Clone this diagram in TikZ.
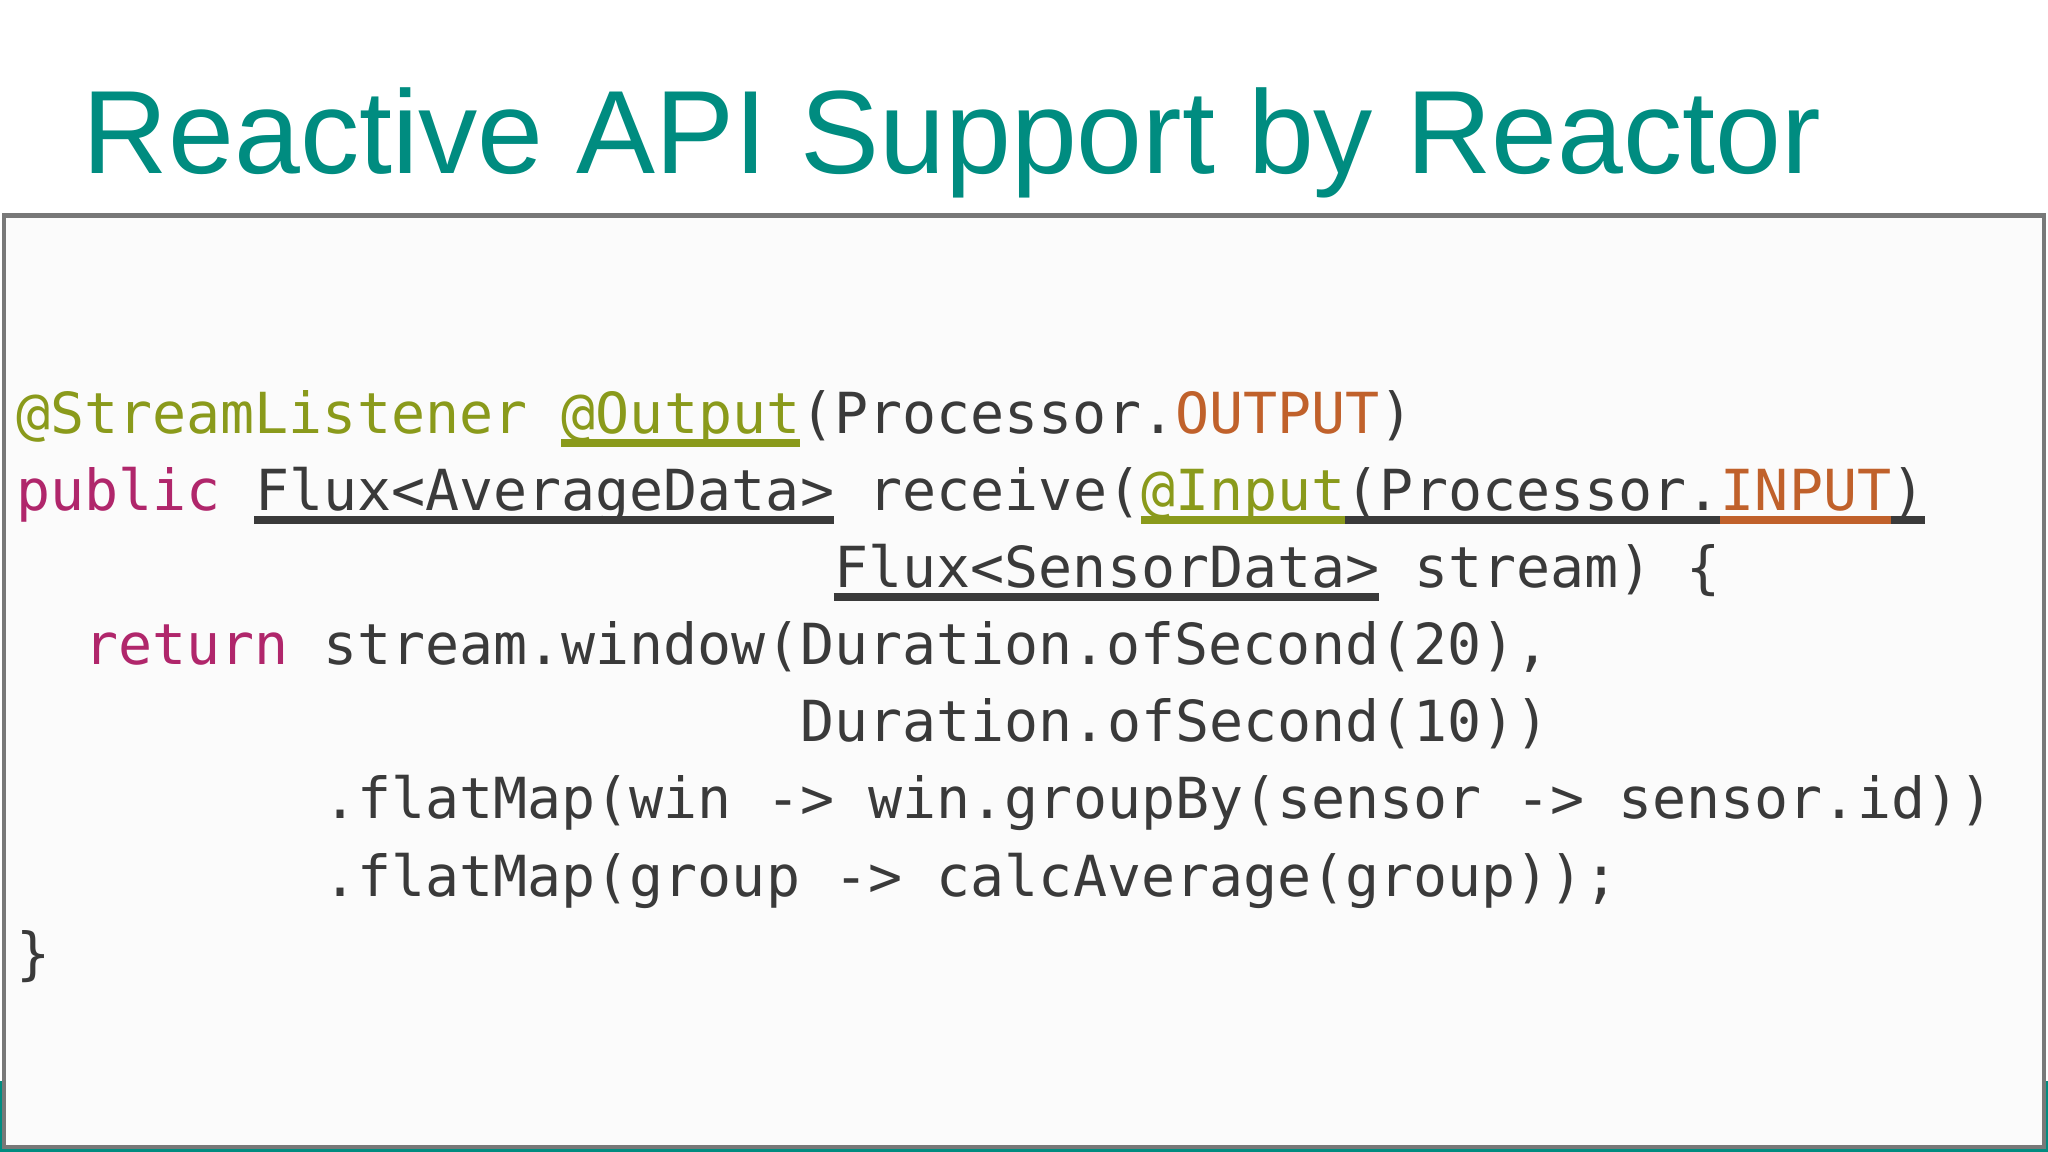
\documentclass[tikz,border=0pt]{standalone}
\usepackage{fontspec}
\setmainfont{Liberation Sans}
\newfontfamily\codefont{DejaVu Sans Mono}
\definecolor{teal1}{RGB}{0,140,128}
\definecolor{kw}{RGB}{176,38,107}
\definecolor{ann}{RGB}{138,154,27}
\definecolor{cst}{RGB}{192,97,43}
\definecolor{txt}{RGB}{58,58,58}
\definecolor{bord}{RGB}{120,120,120}
\newcommand{\cw}{26.1}
\newcommand{\cd}[5]{\node[code,text=#4] (#1) at ({12+#2*\cw},{273+#3*59}) {#5};}
\newcommand{\ul}[4]{\draw[ulin,#4] ({12+#1*\cw},{280+#3*59}) -- ({12+#2*\cw},{280+#3*59});}
\begin{document}
\begin{tikzpicture}[x=0.013061cm,y=-0.013061cm,
  code/.style={anchor=base west,inner sep=0pt,font=\codefont\fontsize{16.1}{20}\selectfont},
  ulin/.style={line width=2.2}]
\useasboundingbox (0,0) rectangle (1568,882);
\fill[white] (0,0) rectangle (1568,882);
\fill[teal1] (0,828) rectangle (1568,882);
\node[anchor=base west,inner sep=0pt,text=teal1,font=\fontsize{33.7}{40}\selectfont] (title) at (63,133) {Reactive API Support by Reactor};
\draw[bord,fill={rgb,255:red,251;green,251;blue,251},line width=1.2] (3,165) rectangle (1565,878);
% line 1
\cd{a1}{0}{1}{ann}{@StreamListener}
\cd{a2}{16}{1}{ann}{@Output}
\cd{a3}{23}{1}{txt}{(Processor.}
\cd{a4}{34}{1}{cst}{OUTPUT}
\cd{a5}{40}{1}{txt}{)}
\ul{16}{23}{1}{ann}
% line 2
\cd{b1}{0}{2}{kw}{public}
\cd{b2}{7}{2}{txt}{Flux<AverageData>}
\cd{b3}{25}{2}{txt}{receive(}
\cd{b4}{33}{2}{ann}{@Input}
\cd{b5}{39}{2}{txt}{(Processor.}
\cd{b6}{50}{2}{cst}{INPUT}
\cd{b7}{55}{2}{txt}{)}
\ul{7}{24}{2}{txt}
\ul{33}{39}{2}{ann}
\ul{39}{50}{2}{txt}
\ul{50}{55}{2}{cst}
\ul{55}{56}{2}{txt}
% line 3
\cd{c1}{24}{3}{txt}{Flux<SensorData>}
\cd{c2}{41}{3}{txt}{stream)}
\cd{c3}{49}{3}{txt}{\{}
\ul{24}{40}{3}{txt}
% line 4
\cd{d1}{2}{4}{kw}{return}
\cd{d2}{9}{4}{txt}{stream.window(Duration.ofSecond(20),}
% line 5
\cd{e1}{23}{5}{txt}{Duration.ofSecond(10))}
% line 6
\cd{f1}{9}{6}{txt}{.flatMap(win}
\cd{f2}{22}{6}{txt}{->}
\cd{f3}{25}{6}{txt}{win.groupBy(sensor}
\cd{f4}{44}{6}{txt}{->}
\cd{f5}{47}{6}{txt}{sensor.id))}
% line 7
\cd{g1}{9}{7}{txt}{.flatMap(group}
\cd{g2}{24}{7}{txt}{->}
\cd{g3}{27}{7}{txt}{calcAverage(group));}
% line 8
\cd{h1}{0}{8}{txt}{\}}
\end{tikzpicture}
\end{document}
